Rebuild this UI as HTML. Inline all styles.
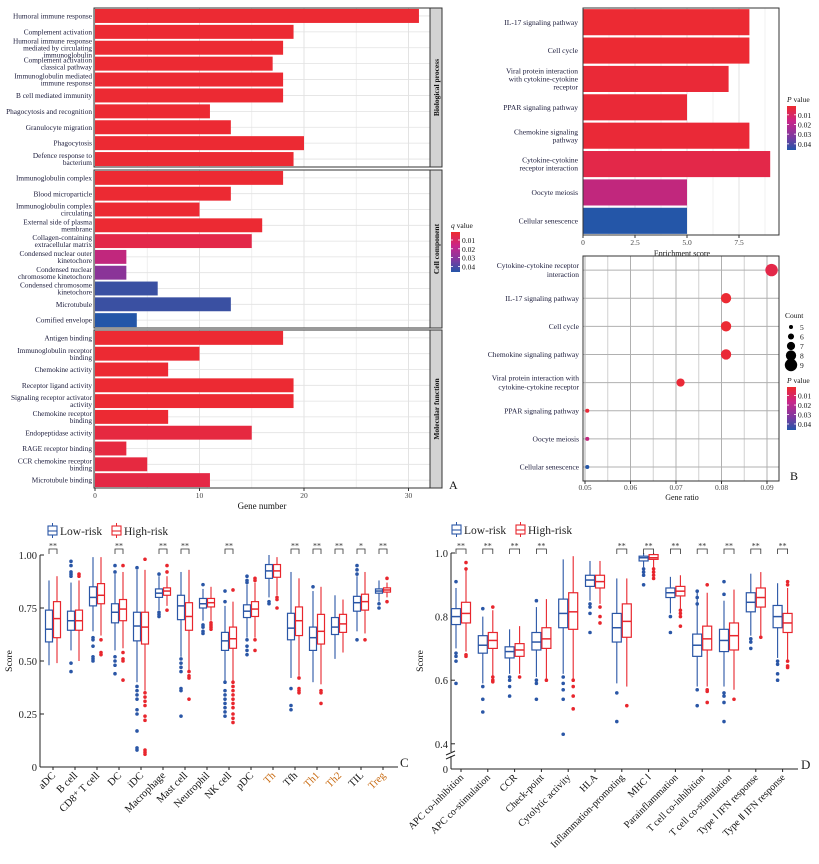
<!DOCTYPE html>
<html><head><meta charset="utf-8">
<style>
html,body{margin:0;padding:0;background:#fff;}
svg{display:block;font-family:"Liberation Serif",serif;}
</style></head>
<body>
<svg id="fig" width="819" height="864" viewBox="0 0 819 864" xmlns="http://www.w3.org/2000/svg">
<defs>
<linearGradient id="gradQ" x1="0" y1="0" x2="0" y2="1">
<stop offset="0" stop-color="#ee2a2e"/><stop offset="0.35" stop-color="#c8268a"/><stop offset="0.7" stop-color="#7e3aa0"/><stop offset="1" stop-color="#2456a8"/>
</linearGradient>
</defs>
<g id="panelA"></g>
<g id="panelB1"></g>
<g id="panelB2"></g>
<g id="panelC"></g>
<g id="panelD"></g>
</svg>
<script>
// ---------- Panel A data ----------
const aBPLabels = ["Humoral immune response","Complement activation","Humoral immune response\nmediated by circulating\nimmunoglobulin","Complement activation\nclassical pathway","Immunoglobulin mediated\nimmune response","B cell mediated immunity","Phagocytosis and recognition","Granulocyte migration","Phagocytosis","Defence response to\nbacterium"];
const aBPCounts = [31,19,18,17,18,18,11,13,20,19];
const aBPq = [0.001,0.001,0.001,0.001,0.001,0.001,0.001,0.001,0.001,0.001];
const aCCLabels = ["Immunoglobulin complex","Blood microparticle","Immunoglobulin complex\ncirculating","External side of plasma\nmembrane","Collagen-containing\nextracellular matrix","Condensed nuclear outer\nkinetochore","Condensed nuclear\nchromosome kinetochore","Condensed chromosome\nkinetochore","Microtubule","Cornified envelope"];
const aCCCounts = [18,13,10,16,15,3,3,6,13,4];
const aCCq = [0.001,0.001,0.001,0.001,0.006,0.02,0.031,0.041,0.041,0.045];
const aMFLabels = ["Antigen binding","Immunoglobulin receptor\nbinding","Chemokine activity","Receptor ligand activity","Signaling receptor activator\nactivity","Chemokine receptor\nbinding","Endopeptidase activity","RAGE receptor binding","CCR chemokine receptor\nbinding","Microtubule binding"];
const aMFCounts = [18,10,7,19,19,7,15,3,5,11];
const aMFq = [0.001,0.001,0.001,0.001,0.001,0.001,0.004,0.004,0.004,0.005];
const aFacetNames = ["Biological process","Cell component","Molecular function"];
const aTicks = [0,10,20,30];
// ---------- Panel B data ----------
const bBarLabels = ["IL-17 signaling pathway","Cell cycle","Viral protein interaction\nwith cytokine-cytokine\nreceptor","PPAR signaling pathway","Chemokine signaling\npathway","Cytokine-cytokine\nreceptor interaction","Oocyte meiosis","Cellular senescence"];
const bBarScores = [8,8,7,5,8,9,5,5];
const bBarP = [0.001,0.001,0.002,0.002,0.002,0.006,0.02,0.045];
const bBarTicks = [0,2.5,5,7.5];
const bDotLabels = ["Cytokine-cytokine receptor\ninteraction","IL-17 signaling pathway","Cell cycle","Chemokine signaling pathway","Viral protein interaction with\ncytokine-cytokine receptor","PPAR signaling pathway","Oocyte meiosis","Cellular senescence"];
const bDotRatio = [0.091,0.081,0.081,0.081,0.071,0.0505,0.0505,0.0505];
const bDotCount = [9,8,8,8,7,5,5,5];
const bDotP = [0.006,0.001,0.001,0.002,0.002,0.002,0.02,0.045];
const bDotTicks = [0.05,0.06,0.07,0.08,0.09];
const legendTicks = ["0.01","0.02","0.03","0.04"];
const countLegend = [5,6,7,8,9];
// ---------- Panel C data ----------
const cCats = ["aDC","B cell","CD8⁺ T cell","DC","iDC","Macrophage","Mast cell","Neutrophil","NK cell","pDC","Th","Tfh","Th1","Th2","TIL","Treg"];
const cLow = [[.48,.59,.65,.74,.88],[.55,.645,.69,.735,.87],[.64,.76,.80,.85,.99],[.55,.68,.73,.77,.91],[.40,.595,.665,.73,.93],[.74,.80,.82,.84,.90],[.52,.695,.76,.81,.92],[.69,.75,.77,.795,.84],[.40,.55,.595,.635,.76],[.61,.705,.735,.765,.86],[.80,.89,.925,.955,1.0],[.42,.60,.655,.725,.92],[.40,.55,.61,.66,.83],[.51,.625,.66,.705,.81],[.64,.735,.775,.805,.90],[.78,.82,.83,.84,.88]];
const cHigh = [[.49,.61,.70,.78,.90],[.50,.645,.69,.74,.88],[.62,.77,.81,.865,.99],[.56,.69,.745,.79,.92],[.36,.58,.66,.73,.93],[.76,.81,.83,.845,.90],[.45,.645,.71,.775,.93],[.69,.755,.775,.795,.85],[.40,.56,.605,.66,.78],[.61,.71,.745,.78,.87],[.81,.895,.925,.955,.99],[.43,.62,.69,.755,.89],[.39,.58,.64,.72,.85],[.54,.635,.675,.72,.79],[.63,.74,.78,.815,.92],[.80,.825,.835,.845,.87]];
const cLowOut = [[],[.45,.49,.90,.91,.92,.95,.97],[.50,.51,.52,.57,.60,.61],[.44,.48,.50,.52,.92,.95],[.08,.09,.17,.25,.27,.32,.34,.36,.38,.94],[.71,.72,.73,.91],[.24,.36,.37,.45,.47,.49,.51],[.63,.64,.66,.67,.86],[.24,.26,.28,.30,.32,.34,.36,.40,.78,.83],[.53,.55,.57,.60,.87,.88,.90],[.77,.78],[.27,.29,.37],[.85],[],[.60,.91,.93,.95],[.75,.77]];
const cHighOut = [[],[.90,.91],[.53,.54,.60],[.41,.50,.51,.54,.95],[.06,.07,.08,.22,.24,.29,.31,.33,.35,.98],[.74,.92,.95],[.32,.42,.43,.45],[.65,.66,.67,.68],[.21,.23,.25,.28,.30,.32,.34,.36,.38,.40,.835],[.55,.60,.88,.89],[.75,.79,.80],[.35,.36,.37,.42],[.30,.35,.36],[],[.60],[.78,.89]];
const cSig = ["**","","","**","","**","**","","**","","","**","**","**","*","**"];
const cTicks = [0,0.25,0.5,0.75,1.0];
const cTickLabels = ["0","0.25","0.50","0.75","1.00"];
// ---------- Panel D data ----------
const dCats = ["APC co-inhibition","APC co-stimulation","CCR","Check-point","Cytolytic activity","HLA","Inflammation-promoting","MHC Ⅰ","Parainflammation","T cell co-inhibition","T cell co-stimulation","Type Ⅰ IFN response","Type Ⅱ IFN response"];
const dLow = [[.70,.775,.80,.825,.89],[.59,.685,.71,.74,.80],[.62,.67,.69,.705,.76],[.61,.695,.72,.75,.83],[.62,.765,.81,.855,.98],[.85,.895,.915,.93,.975],[.59,.72,.765,.81,.92],[.955,.975,.985,.99,1.0],[.81,.86,.875,.89,.925],[.58,.675,.71,.745,.88],[.58,.69,.725,.76,.85],[.74,.815,.845,.875,.935],[.67,.765,.80,.835,.905]];
const dHigh = [[.69,.78,.81,.845,.95],[.61,.70,.725,.75,.82],[.62,.675,.695,.715,.77],[.60,.70,.73,.765,.855],[.60,.76,.815,.875,.99],[.84,.89,.91,.93,.975],[.58,.735,.785,.84,.92],[.95,.98,.985,.995,1.0],[.82,.865,.88,.895,.93],[.58,.695,.73,.77,.875],[.57,.695,.74,.78,.885],[.74,.83,.86,.89,.94],[.66,.75,.78,.81,.89]];
const dLowOut = [[.59,.66,.675,.685,.91],[.50,.54,.58,.825],[.55,.58,.60,.61],[.54,.59,.60,.85],[.43,.54,.57,.59,.61],[.75,.81,.83,.84],[.47,.56],[.90,.93,.94,.95],[.75,.80],[.52,.57,.84,.86,.88],[.47,.53,.55,.56,.87,.91],[.70,.72,.73],[.60,.62,.65,.66]];
const dHighOut = [[.675,.68,.95,.97],[.595,.60,.61,.83],[.61],[.60],[.51,.55,.58,.60],[.78,.80,.83],[.52],[.92,.93,.94,.95],[.77,.80,.81,.82],[.53,.565,.57,.90],[.54],[.735],[.64,.645,.66,.90,.91]];
const dSig = ["**","**","**","**","","","**","**","**","**","**","**","**"];
const dTicks = [0.4,0.6,0.8,1.0];
const dTickLabels = ["0.4","0.6","0.8","1.0"];

// ---------- helpers ----------
const NS="http://www.w3.org/2000/svg";
function mk(parent,tag,attrs){const e=document.createElementNS(NS,tag);for(const k in attrs)e.setAttribute(k,attrs[k]);parent.appendChild(e);return e;}
function txt(parent,x,y,str,size,anchor,extra){const t=mk(parent,"text",Object.assign({x:x,y:y,"font-size":size,"text-anchor":anchor||"start",fill:"#111"},extra||{}));t.textContent=str;return t;}
function multi(parent,x,y,str,size,lh){const lines=str.split("\n");const y0=y-(lines.length-1)*lh/2+size*0.35;const t=mk(parent,"text",{x:x,y:y0,"font-size":size,"text-anchor":"end",fill:"#1a1a3a"});lines.forEach((l,i)=>{const s=mk(t,"tspan",{x:x,y:y0+i*lh});s.textContent=l;});return t;}
const stops=[[0,[238,42,46]],[0.012,[215,38,100]],[0.025,[180,40,140]],[0.035,[110,60,160]],[0.041,[58,80,162]],[0.045,[36,86,168]]];
function pcolor(p){p=Math.max(0,Math.min(0.045,p));for(let i=1;i<stops.length;i++){if(p<=stops[i][0]){const a=stops[i-1],b=stops[i];const f=(p-a[0])/(b[0]-a[0]);const c=a[1].map((v,k)=>Math.round(v+(b[1][k]-v)*f));return "rgb("+c.join(",")+")";}}return "rgb(36,86,168)";}
function gradLegend(g,x,y,title,h){
  const t=txt(g,x,y-4,"",7.5,"start");
  const i1=mk(t,"tspan",{"font-style":"italic"});i1.textContent=title;const i2=mk(t,"tspan",{});i2.textContent=" value";
  const r=mk(g,"rect",{x:x,y:y,width:9,height:h,fill:"url(#gradQ)"});
  
  
  legendTicks.forEach((l,i)=>{const yy=y+h*(0.2+i*0.22);mk(g,"line",{x1:x,x2:x+2,y1:yy,y2:yy,stroke:"#fff","stroke-width":0.8});mk(g,"line",{x1:x+7,x2:x+9,y1:yy,y2:yy,stroke:"#fff","stroke-width":0.8});txt(g,x+11,yy+3,l,7.5,"start");});
}

// ---------- Panel A ----------
(function(){
  const g=document.getElementById("panelA");
  const x0=95, pxPer=10.45, xR=430;
  const xA=v=>x0+v*pxPer;
  const facets=[[8,167,aBPLabels,aBPCounts,aBPq],[170,328,aCCLabels,aCCCounts,aCCq],[330,488,aMFLabels,aMFCounts,aMFq]];
  facets.forEach((f,fi)=>{
    const [top,bot,labs,cnts,qs]=f;
    const fg=mk(g,"g",{});
    
    
    for(let v=0;v<=32;v+=5){const x=xA(v);if(x<xR)mk(fg,"line",{x1:x,x2:x,y1:top,y2:bot,stroke:v%10===0?"#dcdcdc":"#ececec","stroke-width":0.8});}
    const step=(bot-top)/labs.length;
    labs.forEach((l,i)=>{
      const yc=top+(i+0.5)*step;
      mk(fg,"line",{x1:x0,x2:xR,y1:yc,y2:yc,stroke:"#e2e2e2","stroke-width":0.8});
      const b=mk(fg,"rect",{x:x0,y:yc-step*0.44,width:xA(cnts[i])-x0,height:step*0.88,fill:pcolor(qs[i])});
      
      
      const t=multi(fg,92,yc,l,7.3,7);
      
      
    });
    mk(fg,"rect",{x:x0-1,y:top,width:xR-x0+1,height:bot-top,fill:"none",stroke:"#333","stroke-width":1});
    const s=mk(fg,"rect",{x:xR,y:top,width:12,height:bot-top,fill:"#d3d3d3",stroke:"#333","stroke-width":1});
    
    
    const cx=xR+6,cy=(top+bot)/2;
    txt(fg,cx,cy+3,aFacetNames[fi],7.5,"middle",{transform:"rotate(-90 "+cx+" "+(cy)+")","font-weight":"bold"});
  });
  aTicks.forEach(v=>{const x=xA(v);mk(g,"line",{x1:x,x2:x,y1:488,y2:491,stroke:"#333"});txt(g,x,498,String(v),7.5,"middle",{fill:"#444"});});
  const xl=txt(g,262,509,"Gene number",9,"middle");
  
  
  txt(g,449,489,"A",12,"start");
  const lg=mk(g,"g",{});
  
  
  gradLegend(lg,451,232,"q",40);
})();

// ---------- Panel B bar ----------
(function(){
  const g=document.getElementById("panelB1");
  const x0=583,xR=779,top=8,bot=235,pxPer=20.8;
  const xS=v=>x0+v*pxPer;
  for(let v=0;v<=9.3;v+=1.25){mk(g,"line",{x1:xS(v),x2:xS(v),y1:top,y2:bot,stroke:(v%2.5===0)?"#dcdcdc":"#eeeeee","stroke-width":0.8});}
  const step=(bot-top)/bBarLabels.length;
  bBarLabels.forEach((l,i)=>{
    const yc=top+(i+0.5)*step;
    const b=mk(g,"rect",{x:x0,y:yc-step*0.46,width:xS(bBarScores[i])-x0,height:step*0.92,fill:pcolor(bBarP[i])});
    
    
    multi(g,578,yc,l,7.5,8);
  });
  mk(g,"rect",{x:x0,y:top,width:xR-x0,height:bot-top,fill:"none",stroke:"#333","stroke-width":1});
  bBarTicks.forEach(v=>{const x=xS(v);mk(g,"line",{x1:x,x2:x,y1:bot,y2:bot+3,stroke:"#333"});txt(g,x,245,v===0?"0":v.toFixed(1),7.5,"middle",{fill:"#444"});});
  const xl=txt(g,682,256,"Enrichment score",8,"middle");
  
  
  const lg=mk(g,"g",{});
  
  
  gradLegend(lg,787,106,"P",44);
})();

// ---------- Panel B dot ----------
(function(){
  const g=document.getElementById("panelB2");
  const x0=583,xR=779,top=256,bot=481;
  const xS=v=>585+(v-0.05)*4550;
  for(let v=0.045;v<=0.0951;v+=0.005){const x=xS(v);if(x>x0&&x<xR)mk(g,"line",{x1:x,x2:x,y1:top,y2:bot,stroke:(Math.round(v*1000)%10===0)?"#b0b0b0":"#d0d0d0","stroke-width":1});}
  const step=(bot-top)/bDotLabels.length;
  bDotLabels.forEach((l,i)=>{
    const yc=top+(i+0.5)*step;
    mk(g,"line",{x1:x0,x2:xR,y1:yc,y2:yc,stroke:"#b0b0b0","stroke-width":1});
    multi(g,579,yc,l,7.5,9);
  });
  bDotLabels.forEach((l,i)=>{
    const yc=top+(i+0.5)*step;
    const c=mk(g,"circle",{cx:xS(bDotRatio[i]),cy:yc,r:2+(bDotCount[i]-5)*1.05,fill:pcolor(bDotP[i])});
    
    
  });
  mk(g,"rect",{x:x0,y:top,width:xR-x0,height:bot-top,fill:"none",stroke:"#333","stroke-width":1});
  bDotTicks.forEach(v=>{const x=xS(v);mk(g,"line",{x1:x,x2:x,y1:bot,y2:bot+3,stroke:"#333"});txt(g,x,490,v.toFixed(2),7.5,"middle",{fill:"#444"});});
  const xl=txt(g,682,500,"Gene ratio",8,"middle");
  
  
  const cl=mk(g,"g",{});
  
  
  txt(cl,785,318,"Count",7.5,"start");
  countLegend.forEach((c,i)=>{const yy=327+i*9.5;mk(cl,"circle",{cx:791,cy:yy,r:2+(c-5)*1.05,fill:"#000"});txt(cl,800,yy+3,String(c),7.5,"start");});
  const lg=mk(g,"g",{});
  
  
  gradLegend(lg,787,387,"P",43);
  txt(g,790,480,"B",12,"start");
})();

// ---------- Box panels ----------
function boxPanel(g,o){
  const yS=o.yS;
  mk(g,"line",{x1:o.xAxis,x2:o.xAxis,y1:o.yTop,y2:o.yBase,stroke:"#222","stroke-width":1});
  mk(g,"line",{x1:o.xAxis,x2:o.xEnd,y1:o.yBase,y2:o.yBase,stroke:"#222","stroke-width":1});
  o.ticks.forEach((v,i)=>{const y=yS(v);mk(g,"line",{x1:o.xAxis,x2:o.xAxis+4,y1:y,y2:y,stroke:"#222"});txt(g,o.xAxis-3,y+4,o.tickLabels[i],10.5,"end",{fill:"#222"});});
  const yl=txt(g,o.xAxis-28,(o.yTop+o.yBase)/2,"Score",9.5,"middle",{transform:"rotate(-90 "+(o.xAxis-28)+" "+((o.yTop+o.yBase)/2)+")"});
  
  
  const BL="#2a56a6",RD="#e8262d";
  o.cats.forEach((cat,i)=>{
    const c=o.x0+i*o.step;
    mk(g,"line",{x1:c,x2:c,y1:o.yBase,y2:o.yBase+3,stroke:"#222"});
    [[o.low[i],o.lowOut[i],BL,-o.off,"low"],[o.high[i],o.highOut[i],RD,o.off,"high"]].forEach(s=>{
      const [st,out,col,off,nm]=s;const x=c+off,w=o.bw;
      const bg=mk(g,"g",{});
      
      
      mk(bg,"line",{x1:x,x2:x,y1:yS(st[0]),y2:yS(st[1]),stroke:col,"stroke-width":1.1});
      mk(bg,"line",{x1:x,x2:x,y1:yS(st[3]),y2:yS(st[4]),stroke:col,"stroke-width":1.1});
      mk(bg,"rect",{x:x-w/2,y:yS(st[3]),width:w,height:yS(st[1])-yS(st[3]),fill:"#fff",stroke:col,"stroke-width":1.2});
      mk(bg,"line",{x1:x-w/2,x2:x+w/2,y1:yS(st[2]),y2:yS(st[2]),stroke:col,"stroke-width":1.5});
      out.forEach(v=>mk(bg,"circle",{cx:x,cy:yS(v),r:1.8,fill:col}));
    });
    if(o.sig[i]){
      const by=o.sigY;
      mk(g,"path",{d:"M"+(c-o.off)+" "+(by+5)+"V"+by+"H"+(c+o.off)+"V"+(by+5),fill:"none",stroke:"#333","stroke-width":0.8});
      txt(g,c,by-0.5,o.sig[i],8,"middle",{fill:"#333"});
    }
    const col=(o.orange&&o.orange.indexOf(cat)>=0)?"#c86a10":"#111";
    const lt=txt(g,c+3,o.yBase+9,cat,o.labSize,"end",{transform:"rotate(-45 "+(c+3)+" "+(o.yBase+9)+")",fill:col});
    
    
  });
  const lg=mk(g,"g",{});
  
  
  [[BL,"Low-risk",o.legX],[RD,"High-risk",o.legX+64]].forEach(l=>{
    const [col,label,x]=l;const y=o.legY;
    mk(lg,"rect",{x:x,y:y-5,width:9,height:9,fill:"#fff",stroke:col,"stroke-width":1.1});
    mk(lg,"line",{x1:x,x2:x+9,y1:y,y2:y,stroke:col,"stroke-width":1.1});
    mk(lg,"line",{x1:x+4.5,x2:x+4.5,y1:y-8,y2:y-5,stroke:col});
    mk(lg,"line",{x1:x+4.5,x2:x+4.5,y1:y+4,y2:y+7,stroke:col});
    txt(lg,x+12,y+4,label,11.5,"start",{fill:"#222"});
  });
  txt(g,o.letterX,o.yBase,o.letter,13,"start",{fill:"#222"});
}
boxPanel(document.getElementById("panelC"),{
  cats:cCats,low:cLow,high:cHigh,lowOut:cLowOut,highOut:cHighOut,sig:cSig,
  yS:v=>767-v*212,ticks:cTicks,tickLabels:cTickLabels,xAxis:40,xEnd:398,yTop:555,yBase:767,
  x0:53,step:22,off:4,bw:7,sigY:549,labSize:10.5,legX:48,legY:531,letter:"C",letterX:400,
  orange:["Th","Th1","Th2","Treg"]
});
boxPanel(document.getElementById("panelD"),{
  cats:dCats,low:dLow,high:dHigh,lowOut:dLowOut,highOut:dHighOut,sig:dSig,
  yS:v=>553+(1-v)*318,ticks:dTicks,tickLabels:dTickLabels,xAxis:451,xEnd:798,yTop:553,yBase:769,
  x0:461,step:26.8,off:5,bw:9,sigY:549,labSize:10,legX:452,legY:530,letter:"D",letterX:801
});
(function(){const g=document.getElementById("panelD");
mk(g,"rect",{x:446,y:752,width:10,height:4,fill:"#fff"});
mk(g,"line",{x1:446,x2:455,y1:755,y2:751,stroke:"#222"});
mk(g,"line",{x1:446,x2:455,y1:759,y2:755,stroke:"#222"});
txt(g,448,773,"0",10.5,"end",{fill:"#222"});})();
</script>
</body></html>
